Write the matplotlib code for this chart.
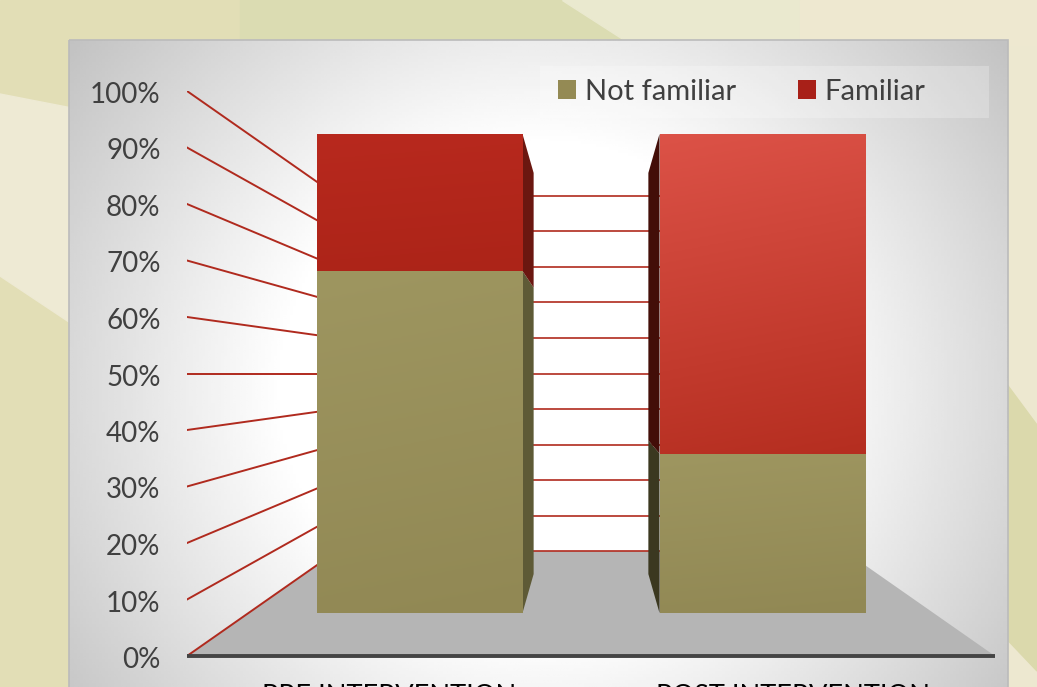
import numpy as np
import matplotlib
matplotlib.use("Agg")
import matplotlib.pyplot as plt
from matplotlib.patches import Polygon, Rectangle
from matplotlib.colors import LinearSegmentedColormap
from matplotlib.ticker import PercentFormatter
from matplotlib.transforms import ScaledTranslation

categories = ["PRE INTERVENTION", "POST INTERVENTION"]
not_familiar = [71.4, 33.3]
familiar = [28.6, 66.7]
y_ticks = [0, 10, 20, 30, 40, 50, 60, 70, 80, 90, 100]

plt.rcParams["font.family"] = ["Lato", "DejaVu Sans"]
W, H = 1037, 687
fig = plt.figure(figsize=(W / 100, H / 100), dpi=100)

# slide background, in pixels
bg = fig.add_axes([0, 0, 1, 1])
bg.set_xlim(0, W)
bg.set_ylim(H, 0)
bg.axis("off")
bg.add_patch(Rectangle((0, 0), W, H, color="#E2DEB6", zorder=0))
bg.add_patch(Rectangle((240, 0), 400, 45, color="#DBDCB2", zorder=1))
bg.add_patch(Polygon([(562, 0), (800, 0), (800, 45), (632, 45)], color="#EAE9CF", zorder=2))
bg.add_patch(Rectangle((800, 0), 237, 45, color="#EEE8D0", zorder=2))
bg.add_patch(Polygon([(0, 94), (72, 108), (72, 324), (0, 276)], color="#EEEAD4", zorder=2))
bg.add_patch(Rectangle((1000, 0), 37, H, color="#EDE8D0", zorder=1))
bg.add_patch(Polygon([(1000, 375), (1037, 425), (1037, 671), (1000, 632)], color="#DBD9AC", zorder=2))

# chart panel with radial grey gradient
px0, px1, py0, py1 = 69, 1008, 40, 687
xx, yy = np.meshgrid(np.linspace(px0, px1, 300), np.linspace(py0, py1, 220))
d = np.sqrt(((xx - 540) / 470) ** 2 + ((yy - 390) / 450) ** 2)
grey = np.clip(255 - 85 * np.clip(d - 0.55, 0, None), 0, 255) / 255
bg.imshow(grey, cmap="gray", vmin=0, vmax=1, extent=(px0, px1, py1, py0),
          aspect="auto", zorder=3, interpolation="bilinear")
bg.add_patch(Rectangle((px0, py0), px1 - px0, py1 - py0 + 5, fill=False,
                       edgecolor="#BBBBBB", lw=1.2, zorder=4))
bg.set_xlim(0, W)
bg.set_ylim(H, 0)
bg.add_patch(Rectangle((540, 66), 449, 51.5, color="white", alpha=0.24, lw=0, zorder=4))

# chart axes is the front plane of the 3D box
ax = fig.add_axes([187 / W, 1 - 656 / H, (995 - 187) / W, (656 - 91) / H])
ax.patch.set_visible(False)
ax.set_xlim(0, 2)
ax.set_ylim(0, 100)
for s in ax.spines.values():
    s.set_visible(False)

# perspective, everything shrinks towards the middle of the chart
S_WALL = 0.629
S_FRONT = 0.848
S_BACK = 0.71
BAR_W = 0.6
x_pos = [0.5, 1.5]


def px(x, s):
    return 1 + (x - 1) * s


def py(y, s):
    return 50 + (y - 50) * s


RED = "#B02A1E"
ax.add_patch(Polygon([(0, 0), (2, 0), (px(2, S_WALL), py(0, S_WALL)), (px(0, S_WALL), py(0, S_WALL))],
                     color="#B5B5B5", lw=0, zorder=1))
for v in y_ticks:
    ax.plot([0, px(0, S_WALL)], [v, py(v, S_WALL)], color=RED, lw=1.4, zorder=1.5)
    ax.plot([px(0, S_WALL), px(2, S_WALL)], [py(v, S_WALL)] * 2, color=RED, lw=1.2, zorder=1.5)
ax.plot([0, 2], [0, 0], color="#444444", lw=2.8, zorder=2, clip_on=False, solid_capstyle="butt")

# side faces of the bars
side_cols = [["#5E5A36", "#6B1710"], ["#3B3820", "#430E08"]]
for i, x in enumerate(x_pos):
    edge = x + BAR_W / 2 if x < 1 else x - BAR_W / 2
    bottom = 0
    for j, val in enumerate([not_familiar[i], familiar[i]]):
        top = bottom + val
        ax.add_patch(Polygon([(px(edge, S_FRONT), py(bottom, S_FRONT)), (px(edge, S_FRONT), py(top, S_FRONT)),
                              (px(edge, S_BACK), py(top, S_BACK)), (px(edge, S_BACK), py(bottom, S_BACK))],
                             color=side_cols[i][j], lw=0, zorder=3))
        bottom = top

# front faces
front_x = [px(x, S_FRONT) for x in x_pos]
front_w = BAR_W * S_FRONT
nf_front = [py(v, S_FRONT) - py(0, S_FRONT) for v in not_familiar]
f_front = [py(v, S_FRONT) - py(0, S_FRONT) for v in familiar]
base = py(0, S_FRONT)
bars_nf = ax.bar(front_x, nf_front, front_w, bottom=base, color="#948A54", label="Not familiar", zorder=3)
bars_f = ax.bar(front_x, f_front, front_w, bottom=[base + h for h in nf_front], color="#A82018",
                label="Familiar", zorder=3)


def shade(bar, c_top, c_bottom):
    x0, y0 = bar.get_x(), bar.get_y()
    w, h = bar.get_width(), bar.get_height()
    cm = LinearSegmentedColormap.from_list("f", [c_top, c_bottom])
    g = np.linspace(0, 1, 100).reshape(-1, 1) + np.linspace(0, 0.12, 100).reshape(1, -1)
    im = ax.imshow(g, cmap=cm, vmin=0, vmax=1.12, extent=(x0, x0 + w, y0, y0 + h), aspect="auto",
                   zorder=3.2, interpolation="bilinear")
    im.set_clip_path(bar)


shade(bars_nf[0], "#9E9660", "#918854")
shade(bars_f[0], "#B8291E", "#AC2418")
shade(bars_nf[1], "#9E9660", "#918854")
shade(bars_f[1], "#DC5247", "#B52E20")
ax.set_xlim(0, 2)
ax.set_ylim(0, 100)

ax.set_yticks(y_ticks)
ax.yaxis.set_major_formatter(PercentFormatter(100, decimals=0))
ax.set_xticks(x_pos)
ax.set_xticklabels(categories)
ax.tick_params(axis="y", length=0, pad=19, labelsize=20, labelcolor="#404040")
ax.tick_params(axis="x", length=0, pad=20.5, labelsize=19.5, labelcolor="black")
for lab in ax.get_yticklabels():
    lab.set_transform(lab.get_transform() + ScaledTranslation(0, -1.5 / 100, fig.dpi_scale_trans))

ax.legend(handles=[bars_nf, bars_f], loc="upper left", bbox_to_anchor=(558 / W, 1 - 79 / H),
          bbox_transform=fig.transFigure, ncol=2, frameon=False, fontsize=21, labelcolor="#404040",
          handlelength=0.62, handleheight=0.62, handletextpad=0.3, columnspacing=2.12,
          borderpad=0, borderaxespad=0)

fig.savefig("out.png", dpi=100)
